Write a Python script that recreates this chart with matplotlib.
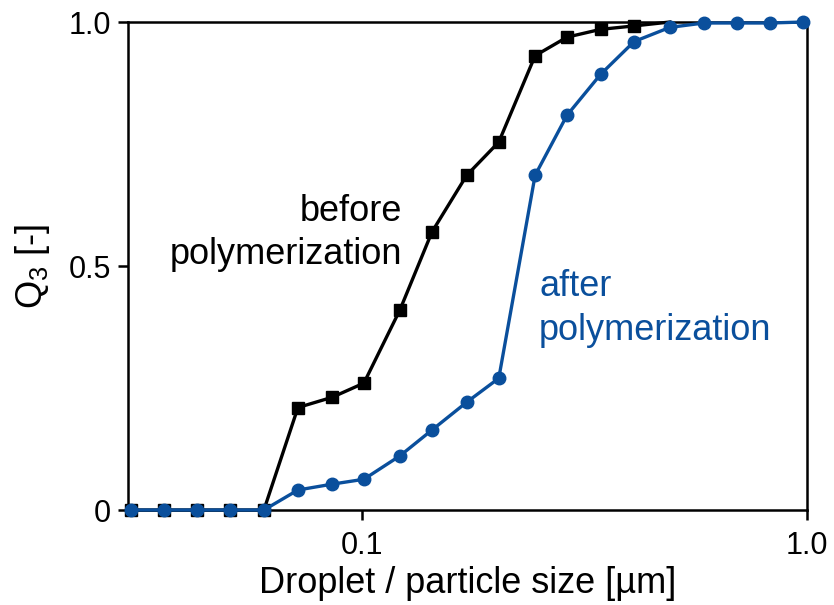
import matplotlib
matplotlib.use("Agg")
import matplotlib.pyplot as plt
from matplotlib.ticker import FixedLocator, NullLocator

plt.rcParams["font.family"] = ["Liberation Sans", "DejaVu Sans"]
plt.rcParams["mathtext.default"] = "regular"

COR_PRETO = "#000000"
COR_AZUL = "#0a4f9c"

# tamanhos (um)
tamanho = [0.0303, 0.0359, 0.0426, 0.0505, 0.0602, 0.0718, 0.0857, 0.101,
           0.1217, 0.1437, 0.172, 0.203, 0.245, 0.289, 0.344, 0.409,
           0.492, 0.587, 0.697, 0.826, 0.980]

# Q3 antes da polimerizacao (gotas)
q3_antes = [0, 0, 0, 0, 0, 0.210, 0.231, 0.260, 0.410, 0.570, 0.686,
            0.754, 0.931, 0.969, 0.985, 0.992, 1.0]

# Q3 depois da polimerizacao (particulas)
q3_depois = [0, 0, 0, 0, 0, 0.041, 0.053, 0.063, 0.111, 0.164, 0.221,
             0.270, 0.686, 0.809, 0.893, 0.960, 0.989, 0.998, 0.998,
             0.998, 1.0]

x_ticks = [0.1, 1.0]
x_tick_labels = ["0.1", "1.0"]
y_ticks = [0, 0.5, 1.0]
y_tick_labels = ["0", "0.5", "1.0"]

fig = plt.figure(figsize=(8.34, 6.05), dpi=100)
ax = fig.add_axes([0.1535, 0.157, 0.814, 0.8066])

ax.plot(tamanho[:len(q3_antes)], q3_antes, color=COR_PRETO, lw=2.4,
        marker="s", ms=8.5, markevery=list(range(len(q3_antes) - 1)),
        zorder=3, clip_on=False)
ax.plot(tamanho, q3_depois, color=COR_AZUL, lw=2.4, marker="o", ms=9,
        zorder=4, clip_on=False)

ax.set_xscale("log")
ax.set_xlim(0.0298, 1.0)
ax.set_ylim(0, 1.0)

ax.xaxis.set_major_locator(FixedLocator(x_ticks))
ax.xaxis.set_minor_locator(NullLocator())
ax.set_xticklabels(x_tick_labels)
ax.set_yticks(y_ticks)
ax.set_yticklabels(y_tick_labels)

for lado in ["top", "right", "bottom", "left"]:
    ax.spines[lado].set_linewidth(1.8)

ax.tick_params(axis="both", direction="out", length=7, width=1.8,
               labelsize=22)
ax.tick_params(axis="x", pad=8)
ax.tick_params(axis="y", pad=5)

ax.set_xlabel("Droplet / particle size [µm]", fontsize=26, labelpad=4)
ax.set_ylabel("Q$_3$ [-]", fontsize=26, labelpad=12)

ax.text(0.123, 0.568, "before\npolymerization", ha="right", va="center",
        fontsize=26, color=COR_PRETO, linespacing=1.3)
ax.text(0.250, 0.413, "after\npolymerization", ha="left", va="center",
        fontsize=26, color=COR_AZUL, linespacing=1.3)

plt.savefig("out.png", dpi=100)
